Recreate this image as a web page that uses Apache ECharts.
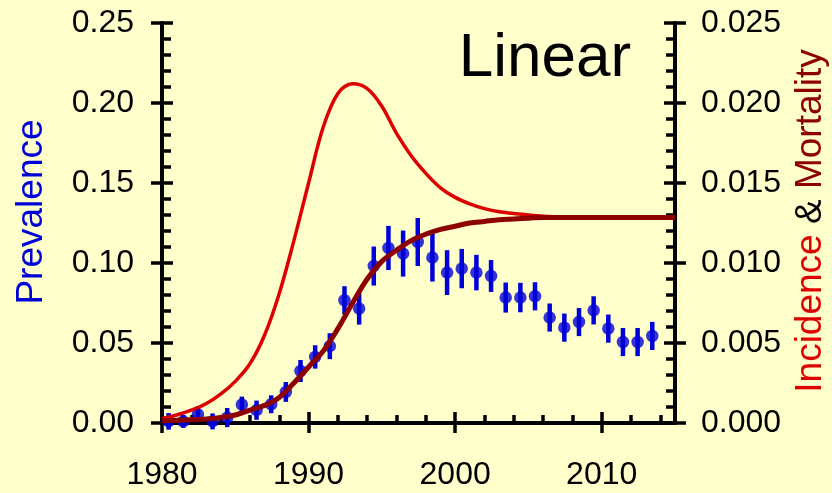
<!DOCTYPE html>
<html>
<head>
<meta charset="utf-8">
<script src="https://cdn.jsdelivr.net/npm/echarts@6/dist/echarts.min.js"></script>
<style>
  html, body { margin: 0; padding: 0; background: #FFFFCC; }
  #chart { width: 832px; height: 493px; }
</style>
</head>
<body>
<div id="chart"></div>
<script>
// Observed prevalence, one survey per year (plotted at the survey mid-point)
const surveyYears = [1980, 1981, 1982, 1983, 1984, 1985, 1986, 1987, 1988, 1989,
                     1990, 1991, 1992, 1993, 1994, 1995, 1996, 1997, 1998, 1999,
                     2000, 2001, 2002, 2003, 2004, 2005, 2006, 2007, 2008, 2009,
                     2010, 2011, 2012, 2013];
const prevalence = [0.001, 0.001, 0.0054, 0.001, 0.0034, 0.0115, 0.008, 0.0117, 0.0194, 0.0325,
                    0.0413, 0.048, 0.0767, 0.0715, 0.0981, 0.1094, 0.1059, 0.1131, 0.1034, 0.094,
                    0.0965, 0.094, 0.0919, 0.0784, 0.0784, 0.0792, 0.0659, 0.0596, 0.0631, 0.0704,
                    0.059, 0.0506, 0.0506, 0.0544];
const prevalenceErr = [0.0052, 0.004, 0.005, 0.005, 0.006, 0.005, 0.006, 0.0056, 0.0062, 0.0069,
                       0.0073, 0.0081, 0.0088, 0.010, 0.0122, 0.0138, 0.0144, 0.015, 0.015, 0.014,
                       0.0123, 0.0111, 0.010, 0.0094, 0.0092, 0.0088, 0.0088, 0.0088, 0.0088, 0.0088,
                       0.0088, 0.0088, 0.0088, 0.0088];
const surveyMidpoint = 0.45;

// Modelled annual rates (right-hand axis)
const modelYears = [1980, 1981, 1982, 1983, 1984, 1985, 1986, 1987, 1988, 1989,
                    1990, 1991, 1992, 1993, 1994, 1995, 1996, 1997, 1998, 1999,
                    2000, 2001, 2002, 2003, 2004, 2005, 2006, 2007, 2008, 2009,
                    2010, 2011, 2012, 2013, 2014, 2015];
const incidence = [0.00027, 0.0005, 0.0008, 0.0012, 0.0018, 0.0026, 0.0037, 0.0055, 0.0081, 0.0114,
                   0.0150, 0.0185, 0.0206, 0.0212, 0.0209, 0.0198, 0.0181, 0.0167, 0.0156, 0.0147,
                   0.0141, 0.0137, 0.0134, 0.0132, 0.0131, 0.0130, 0.01292, 0.01288, 0.01285, 0.01285,
                   0.01285, 0.01285, 0.01285, 0.01285, 0.01285, 0.01285];
const mortality = [0.00015, 0.00017, 0.0002, 0.00025, 0.00035, 0.0005, 0.0008, 0.0011, 0.0016, 0.0025,
                   0.0035, 0.0045, 0.0059, 0.0075, 0.0090, 0.0101, 0.0108, 0.0114, 0.0118, 0.0121,
                   0.0123, 0.0125, 0.0126, 0.0127, 0.01275, 0.0128, 0.01285, 0.01285, 0.01285, 0.01285,
                   0.01285, 0.01285, 0.01285, 0.01285, 0.01285, 0.01285];

// Axis ticks
const xMajorTicks = [1980, 1990, 2000, 2010];
const xMinorTicks = [1982, 1984, 1986, 1988, 1992, 1994, 1996, 1998,
                     2002, 2004, 2006, 2008, 2012, 2014];

const FONT = 'Liberation Sans, Arial, Helvetica, sans-serif';
const BLUE = '#0000D8';
const RED = '#DD0000';
const DARK_RED = '#8C0000';
const INK = '#000000';

const tickStyle = { color: INK, width: 3.5 };

function xAxisBase(extra) {
  return Object.assign({
    type: 'value', min: 1980, max: 2015, interval: 10, position: 'bottom',
    axisLine: { show: false }, axisLabel: { show: false },
    splitLine: { show: false }, minorTick: { show: false }
  }, extra);
}
function yAxisBase(extra) {
  return Object.assign({
    type: 'value', splitLine: { show: false },
    axisLine: { show: false }, axisLabel: { show: false }
  }, extra);
}

const chart = echarts.init(document.getElementById('chart'), null, { renderer: 'canvas' });

chart.setOption({
  backgroundColor: '#FFFFCC',
  animation: false,
  grid: { left: 162, right: 157, top: 23, bottom: 70, containLabel: false, outerBoundsMode: 'none' },
  xAxis: [
    // main axis: line, labels and downward half of the major ticks
    xAxisBase({
      axisLine: { show: true, onZero: false, lineStyle: { color: INK, width: 4 } },
      axisTick: { show: true, inside: false, length: 10, customValues: xMajorTicks, lineStyle: tickStyle },
      axisLabel: {
        show: true, customValues: xMajorTicks, margin: 36, color: INK,
        fontSize: 32, fontFamily: FONT, lineHeight: 32,
        formatter: v => (v % 10 === 0 ? String(v) : '')
      }
    }),
    // upward half of the major ticks
    xAxisBase({
      axisTick: { show: true, inside: true, length: 11, customValues: xMajorTicks, lineStyle: tickStyle }
    }),
    // minor ticks every two years
    xAxisBase({
      axisTick: { show: true, inside: true, length: 8, customValues: xMinorTicks, lineStyle: tickStyle }
    })
  ],
  yAxis: [
    // prevalence (left)
    yAxisBase({
      position: 'left', min: 0, max: 0.25, interval: 0.05,
      axisLine: { show: true, onZero: false, lineStyle: { color: INK, width: 4 } },
      axisTick: { show: true, inside: false, length: 11, lineStyle: tickStyle },
      axisLabel: {
        show: true, margin: 28, color: INK, fontSize: 32, fontFamily: FONT,
        formatter: v => v.toFixed(2)
      }
    }),
    yAxisBase({
      position: 'left', min: 0, max: 0.25, interval: 0.05,
      axisTick: { show: true, inside: true, length: 11, lineStyle: tickStyle },
      minorTick: { show: true, splitNumber: 5, length: 9, lineStyle: tickStyle }
    }),
    // incidence & mortality (right)
    yAxisBase({
      position: 'right', min: 0, max: 0.025, interval: 0.005,
      axisLine: { show: true, onZero: false, lineStyle: { color: INK, width: 4 } },
      axisTick: { show: true, inside: false, length: 11, lineStyle: tickStyle },
      axisLabel: {
        show: true, margin: 26, color: INK, fontSize: 32, fontFamily: FONT,
        formatter: v => v.toFixed(3)
      }
    }),
    yAxisBase({
      position: 'right', min: 0, max: 0.025, interval: 0.005,
      axisTick: { show: true, inside: true, length: 11, lineStyle: tickStyle },
      minorTick: { show: true, splitNumber: 5, length: 9, lineStyle: tickStyle }
    })
  ],
  series: [
    {
      name: 'Prevalence error',
      type: 'custom',
      xAxisIndex: 0, yAxisIndex: 0,
      clip: false, silent: true, z: 2,
      data: surveyYears.map((yr, i) => [yr + surveyMidpoint,
        prevalence[i] - prevalenceErr[i], prevalence[i] + prevalenceErr[i]]),
      renderItem: function (params, api) {
        const lo = api.coord([api.value(0), api.value(1)]);
        const hi = api.coord([api.value(0), api.value(2)]);
        return {
          type: 'line',
          shape: { x1: lo[0], y1: lo[1], x2: hi[0], y2: hi[1] },
          style: { stroke: BLUE, lineWidth: 4.5 }
        };
      }
    },
    {
      name: 'Prevalence',
      type: 'scatter',
      xAxisIndex: 0, yAxisIndex: 0, z: 3, silent: true,
      symbol: 'circle', symbolSize: 12.5,
      itemStyle: { color: BLUE },
      data: surveyYears.map((yr, i) => [yr + surveyMidpoint, prevalence[i]])
    },
    {
      name: 'Incidence',
      type: 'line',
      xAxisIndex: 0, yAxisIndex: 2, z: 4,
      showSymbol: false, smooth: 0.35,
      lineStyle: { color: RED, width: 3.5 },
      data: modelYears.map((yr, i) => [yr, incidence[i]])
    },
    {
      name: 'Mortality',
      type: 'line',
      xAxisIndex: 0, yAxisIndex: 2, z: 5,
      showSymbol: false, smooth: 0.35,
      lineStyle: { color: DARK_RED, width: 5 },
      data: modelYears.map((yr, i) => [yr, mortality[i]])
    }
  ],
  graphic: [
    {
      type: 'text', x: 545, y: 59, silent: true,
      style: {
        text: 'Linear', fill: INK, font: '62px ' + FONT,
        align: 'center', verticalAlign: 'middle'
      }
    },
    {
      type: 'text', x: 32, y: 212, rotation: Math.PI / 2, silent: true,
      style: {
        text: 'Prevalence', fill: BLUE, font: '37px ' + FONT,
        align: 'center', verticalAlign: 'middle'
      }
    },
    {
      type: 'text', x: 811, y: 221, rotation: Math.PI / 2, silent: true,
      style: {
        text: '{inc|Incidence} {amp|&} {mort|Mortality}',
        font: '37px ' + FONT, align: 'center', verticalAlign: 'middle',
        rich: {
          inc: { fill: RED, font: '37px ' + FONT },
          amp: { fill: INK, font: '37px ' + FONT },
          mort: { fill: DARK_RED, font: '37px ' + FONT }
        }
      }
    }
  ]
});
</script>
</body>
</html>
